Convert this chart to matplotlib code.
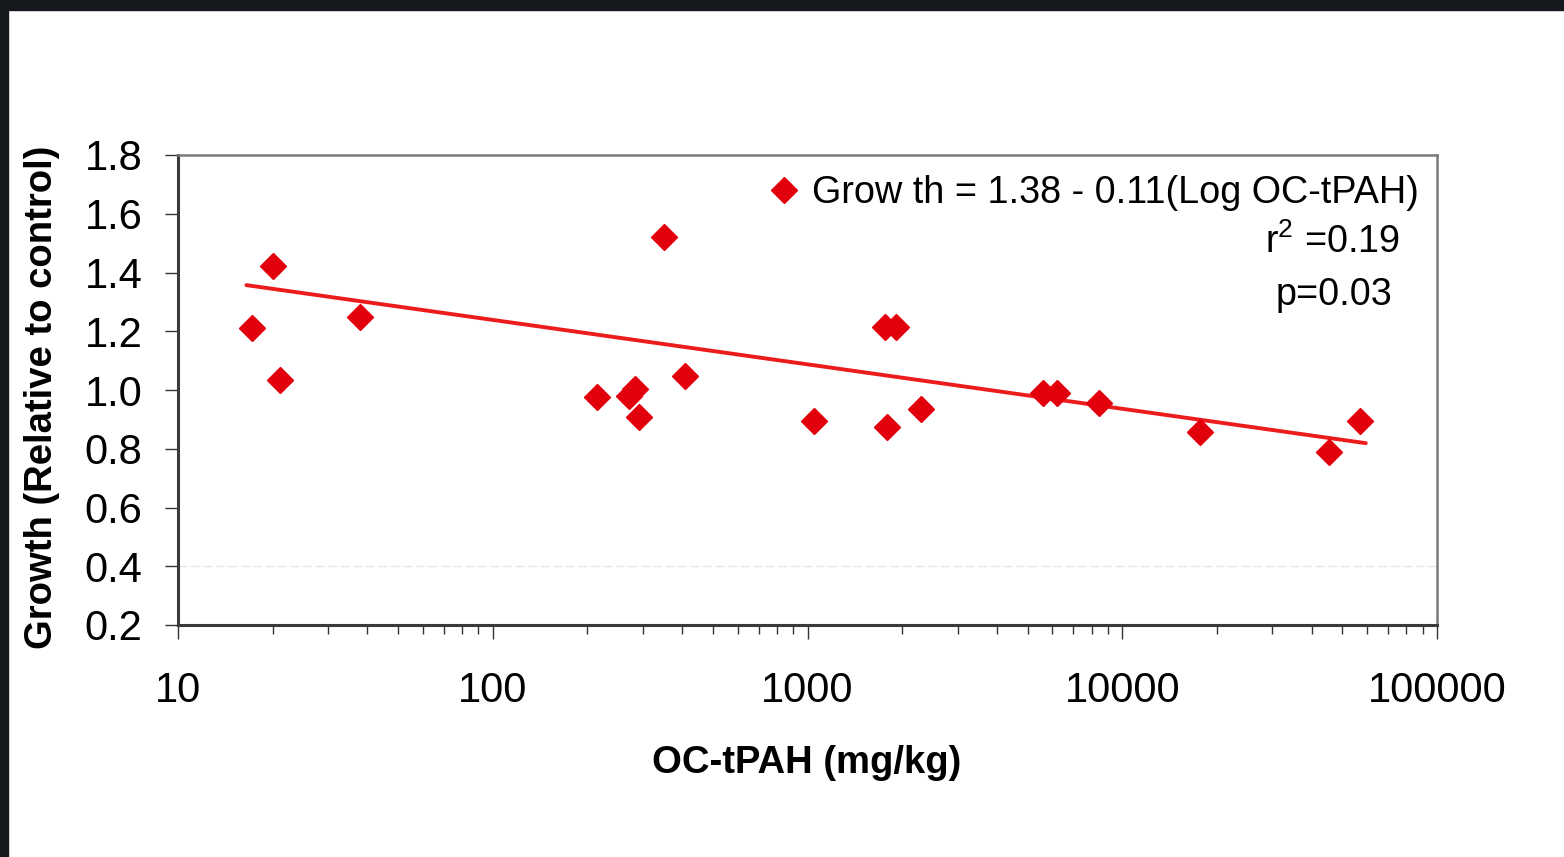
import numpy as np
import matplotlib
matplotlib.use('Agg')
import matplotlib.pyplot as plt
from matplotlib.patches import Rectangle
from matplotlib.ticker import FixedLocator, LogLocator, NullFormatter

'''
Growth of test organisms (relative to control) against OC-normalised
total PAH in sediment, with log-linear trend line.
'''

# sediment OC-tPAH (mg/kg) and growth relative to control
tpah = [17.2, 20.0, 21.1, 37.9, 214, 270, 284, 292, 349, 407,
        1048, 1766, 1916, 1784, 2297, 5615, 6209, 8414, 17630, 45380, 57030]
growth = [1.21, 1.423, 1.035, 1.247, 0.977, 0.980, 1.002, 0.907, 1.520, 1.048,
          0.896, 1.213, 1.213, 0.873, 0.934, 0.989, 0.989, 0.955, 0.858, 0.788, 0.896]

# trend line end points
trendX = [16.5, 59400]
trendY = [1.357, 0.819]

yTicks = [0.2, 0.4, 0.6, 0.8, 1.0, 1.2, 1.4, 1.6, 1.8]
xTicks = [10, 100, 1000, 10000, 100000]
xTickLabels = ['10', '100', '1000', '10000', '100000']

eqnLabel = 'Grow th = 1.38 - 0.11(Log OC-tPAH)'
r2Label = 'r$^2$ =0.19'
pLabel = 'p=0.03'

# graph settings
figW, figH = 1564, 857
plotDPI = 100
tickFont = 30
statFont = 27.2
axisFont = 27.5
red = '#e2000c'
lineRed = '#ec1c1c'

plt.rcParams['font.family'] = ['Liberation Sans', 'DejaVu Sans']
plt.rcParams['mathtext.fontset'] = 'custom'
plt.rcParams['mathtext.rm'] = 'Liberation Sans'


def px(x, y):
    '''pixel position -> figure fraction'''
    return x / figW, 1 - y / figH


fig = plt.figure(figsize=(figW / plotDPI, figH / plotDPI), dpi=plotDPI)
fig.patch.set_facecolor('white')

# dark scan border along the top and left edge
fig.patches.append(Rectangle((0, 1 - 10 / figH), 1, 10 / figH, transform=fig.transFigure,
                             color='#15181c', zorder=0))
fig.patches.append(Rectangle((0, 0), 8 / figW, 1, transform=fig.transFigure,
                             color='#15181c', zorder=0))

left, top = px(178, 155)
right, bottom = px(1437, 625)
ax = fig.add_axes([left, bottom, right - left, top - bottom])

ax.set_xscale('log')
ax.set_xlim(10, 100000)
ax.set_ylim(0.2, 1.8)

ax.axhline(0.4, color='#e6e6e6', lw=1, ls=(0, (6, 3)), zorder=1)

ax.plot(trendX, trendY, color=lineRed, lw=2.8, solid_capstyle='round', zorder=2)
ax.plot(tpah, growth, ls='none', marker='D', ms=13, color=red, mec=red,
        label=eqnLabel, zorder=3)

ax.yaxis.set_major_locator(FixedLocator(yTicks))
ax.set_yticklabels([f'{v:.1f}' for v in yTicks])
ax.xaxis.set_major_locator(FixedLocator(xTicks))
ax.set_xticklabels(xTickLabels)
ax.xaxis.set_minor_locator(LogLocator(base=10, subs=np.arange(2, 10)))
ax.xaxis.set_minor_formatter(NullFormatter())

ax.tick_params(axis='y', which='major', direction='out', length=9.5, width=1,
               color='#333333', labelsize=tickFont, pad=16)
ax.tick_params(axis='x', which='major', direction='out', length=10, width=1,
               color='#333333', labelsize=tickFont, pad=23)
ax.tick_params(axis='x', which='minor', direction='out', length=6.5, width=1,
               color='#333333')

for side in ['left', 'bottom']:
    ax.spines[side].set_color('#3a3a3a')
    ax.spines[side].set_linewidth(2.2)
for side in ['top', 'right']:
    ax.spines[side].set_color('#7a7a7a')
    ax.spines[side].set_linewidth(1.8)

leg = ax.legend(loc='upper right', bbox_to_anchor=(0.9915, 0.974), frameon=False,
                fontsize=statFont, handlelength=0.7, handletextpad=0.4,
                borderaxespad=0, borderpad=0.2, markerscale=1.0)

ax.text(1400 / figW, 1 - 242 / figH, r2Label, transform=fig.transFigure,
        fontsize=statFont, ha='right', va='center')
ax.text(1392 / figW, 1 - 295 / figH, pLabel, transform=fig.transFigure,
        fontsize=statFont, ha='right', va='center')

fig.text(*px(807, 763), 'OC-tPAH (mg/kg)', fontsize=axisFont, fontweight='bold',
         ha='center', va='center')
fig.text(*px(42, 397), 'Growth (Relative to control)', fontsize=axisFont,
         fontweight='bold', rotation=90, ha='center', va='center')

fig.savefig('out.png', dpi=plotDPI)
